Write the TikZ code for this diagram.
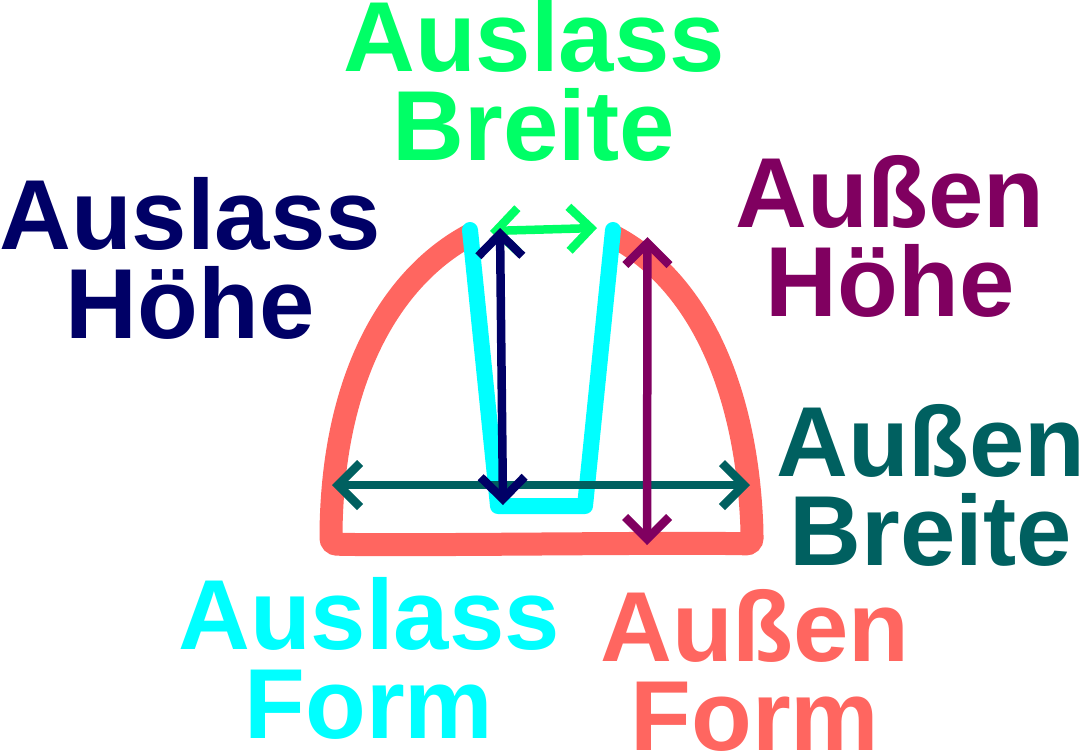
\documentclass[tikz,border=0pt]{standalone}
\usepackage{fontspec}
\setmainfont{Liberation Sans}
\usetikzlibrary{arrows.meta}
\definecolor{coral}{HTML}{FF6660}
\definecolor{aqua}{HTML}{00FFFF}
\definecolor{mint}{HTML}{00FF66}
\definecolor{navy}{HTML}{000066}
\definecolor{plum}{HTML}{800060}
\definecolor{pine}{HTML}{006060}
\tikzset{
    lbl/.style={align=center, inner sep=0pt, font=\fontsize{99.5}{88.5}\selectfont\bfseries},
    dim/.style={line width=8.5pt, {Straight Barb[length=22pt,width=44pt,line width=8.5pt]}-{Straight Barb[length=22pt,width=44pt,line width=8.5pt]}},
}

\begin{document}
\begin{tikzpicture}[x=1pt, y=-1pt]
    \useasboundingbox (0,0) rectangle (1080,753);

    \coordinate (O1) at (470,235);
    \coordinate (O2) at (331,544);
    \coordinate (O3) at (752,544);
    \coordinate (O4) at (613,236);
    \draw[coral, line width=23pt, rounded corners=6pt] (O1) .. controls (395,275) and (335,370) .. (331,530) -- (O2) .. controls (400,546) and (680,542) .. (O3) -- (752,530) .. controls (745,370) and (688,275) .. (O4);

    \coordinate (I1) at (470,230);
    \coordinate (I2) at (498,506);
    \coordinate (I3) at (585,506);
    \coordinate (I4) at (613,230);
    \draw[aqua, line width=16pt, line cap=round, line join=round] (I1) -- (I2) -- (I3) -- (I4);

    \coordinate (G1) at (490,231);
    \coordinate (G2) at (597,228);
    \draw[mint, dim] (G1) -- (G2);

    \coordinate (T1) at (332,485);
    \coordinate (T2) at (750,485);
    \draw[pine, dim] (T1) -- (T2);

    \coordinate (N1) at (500,228);
    \coordinate (N2) at (503,505);
    \draw[navy, dim] (N1) -- (N2);

    \coordinate (P1) at (647.5,237);
    \coordinate (P2) at (647,545);
    \draw[plum, dim] (P1) -- (P2);

    \node[lbl, text=mint, anchor=base] (AB) at (534,160) {Auslass\\Breite};
    \node[lbl, text=navy, anchor=base] (AH) at (190,338) {Auslass\\Höhe};
    \node[lbl, text=plum, anchor=base] (UH) at (890,316) {Außen\\Höhe};
    \node[lbl, text=pine, anchor=base] (UB) at (931,565) {Außen\\Breite};
    \node[lbl, text=aqua, anchor=base] (AF) at (369,738) {Auslass\\Form};
    \node[lbl, text=coral, anchor=base] (UF) at (755,750) {Außen\\Form};
\end{tikzpicture}
\end{document}
